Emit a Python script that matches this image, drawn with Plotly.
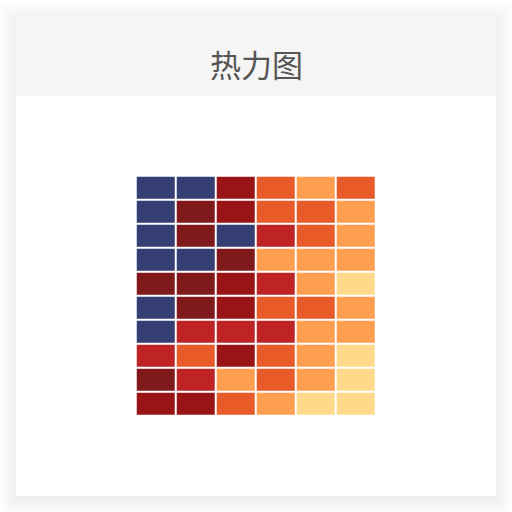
import plotly.graph_objects as go

rows = ["r1", "r2", "r3", "r4", "r5", "r6", "r7", "r8", "r9", "r10"]
cols = ["c1", "c2", "c3", "c4", "c5", "c6"]
z = [
    [0, 0, 2, 4, 5, 4],
    [0, 1, 2, 4, 4, 5],
    [0, 1, 0, 3, 4, 5],
    [0, 0, 1, 5, 5, 5],
    [1, 1, 2, 3, 5, 6],
    [0, 1, 2, 4, 4, 5],
    [0, 3, 3, 3, 5, 5],
    [3, 4, 2, 4, 5, 6],
    [1, 3, 5, 4, 5, 6],
    [2, 2, 4, 5, 6, 6],
]
palette = ["#353e73", "#7f191c", "#991416", "#be2326", "#e85a27", "#fe9e4f", "#fed98a"]

n = len(palette)
cs = []
for i, c in enumerate(palette):
    cs.append([i / n, c])
    cs.append([(i + 1) / n, c])

W = H = 512
def px(x):
    return x / W
def py(y):
    return 1 - y / H

fig = go.Figure(go.Heatmap(
    z=z, x=cols, y=rows, colorscale=cs, zmin=-0.5, zmax=n - 0.5,
    showscale=False, xgap=2, ygap=2, hoverinfo="skip",
))

shapes = []
# soft shadow
for k in range(15, 0, -1):
    shapes.append(dict(type="rect", xref="paper", yref="paper", layer="below",
                       x0=px(16 - k), x1=px(496 + k), y0=py(16 - k + 3), y1=py(496 + k + 3),
                       fillcolor="rgba(0,0,0,0.0045)", line=dict(width=0)))
shapes.append(dict(type="rect", xref="paper", yref="paper", layer="below",
                   x0=px(16), x1=px(496), y0=py(16), y1=py(496),
                   fillcolor="#ffffff", line=dict(width=0)))
shapes.append(dict(type="rect", xref="paper", yref="paper", layer="below",
                   x0=px(16), x1=px(496), y0=py(16), y1=py(96),
                   fillcolor="#f5f5f5", line=dict(width=0)))

fig.update_layout(
    width=W, height=H, margin=dict(l=0, r=0, t=0, b=0),
    paper_bgcolor="#ffffff", plot_bgcolor="rgba(0,0,0,0)",
    shapes=shapes,
    xaxis=dict(domain=[px(135.7), px(376)], visible=False, fixedrange=True),
    yaxis=dict(domain=[py(416), py(175.7)], visible=False, autorange="reversed", fixedrange=True),
    annotations=[dict(text="热力图", xref="paper", yref="paper", x=0.5, y=py(63),
                      xanchor="center", yanchor="middle", showarrow=False,
                      font=dict(family="Noto Sans CJK SC", size=31, color="#555555"))],
)

fig.write_html("out.html", config={"displayModeBar": False})
